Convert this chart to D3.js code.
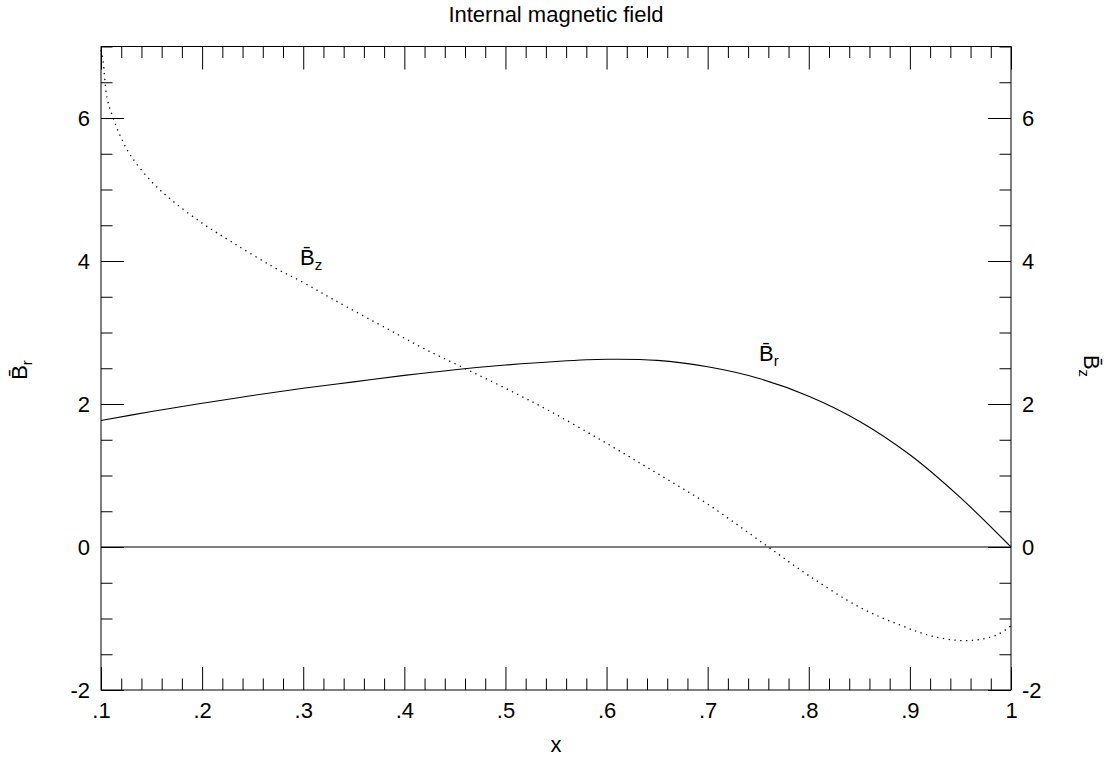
<!DOCTYPE html>
<html>
<head>
<meta charset="utf-8">
<script src="https://cdn.jsdelivr.net/npm/d3@7"></script>
<style>
  html, body { margin: 0; padding: 0; background: #fff; }
  svg { display: block; font-family: "Liberation Sans", Arial, sans-serif; }
  .axis text { font-size: 22px; fill: #000; }
  .axis line { stroke: #000; stroke-width: 1; }
  .axis path { display: none; }
</style>
</head>
<body>
<svg id="chart" width="1113" height="761"></svg>
<script>
// Radial field component along x
const brX = [0.10, 0.15, 0.20, 0.25, 0.30, 0.35, 0.40, 0.45, 0.50, 0.55, 0.60, 0.65, 0.70, 0.75, 0.80, 0.85, 0.90, 0.95, 1.00];
const brY = [1.77, 1.895, 2.01, 2.12, 2.22, 2.31, 2.40, 2.48, 2.545, 2.595, 2.625, 2.61, 2.52, 2.36, 2.11, 1.76, 1.29, 0.69, 0.00];

// Axial field component along x
const bzX = [0.100, 0.102, 0.106, 0.112, 0.120, 0.130, 0.150, 0.170, 0.200, 0.230, 0.270, 0.300, 0.330, 0.386, 0.420, 0.458, 0.500, 0.544, 0.600, 0.650, 0.700, 0.760, 0.800, 0.850, 0.890, 0.923, 0.958, 0.986, 1.000];
const bzY = [6.95, 6.80, 6.28, 6.00, 5.72, 5.46, 5.11, 4.85, 4.53, 4.26, 3.92, 3.70, 3.46, 3.03, 2.77, 2.51, 2.22, 1.90, 1.45, 1.03, 0.60, 0.00, -0.40, -0.84, -1.09, -1.25, -1.31, -1.23, -1.10];

// Tick values and labels
const xMajorTicks = [0.1, 0.2, 0.3, 0.4, 0.5, 0.6, 0.7, 0.8, 0.9, 1.0];
const xTickLabels = [".1", ".2", ".3", ".4", ".5", ".6", ".7", ".8", ".9", "1"];
const yMajorTicks = [-2, 0, 2, 4, 6];
const yTickLabels = ["-2", "0", "2", "4", "6"];
const xMinorTicks = d3.range(5, 51).filter(i => i % 5 !== 0).map(i => i / 50);
const yMinorTicks = d3.range(-4, 15).filter(i => i % 4 !== 0).map(i => i / 2);

const svg = d3.select("#chart");
const plotLeft = 101, plotRight = 1011, plotTop = 46.5, plotBottom = 690;

const x = d3.scaleLinear().domain([0.1, 1]).range([plotLeft, plotRight]);
const y = d3.scaleLinear().domain([-2, 7]).range([plotBottom, plotTop]);

const MAJ = 23, MIN = 11.5;

// Bottom axis
svg.append("g").attr("class", "axis").attr("transform", `translate(0,${plotBottom})`)
  .call(d3.axisBottom(x).tickValues(xMajorTicks).tickSize(-MAJ).tickPadding(12)
    .tickFormat((d, i) => xTickLabels[i]));
svg.append("g").attr("class", "axis").attr("transform", `translate(0,${plotBottom})`)
  .call(d3.axisBottom(x).tickValues(xMinorTicks).tickSize(-MIN).tickFormat(""));

// Top axis
svg.append("g").attr("class", "axis").attr("transform", `translate(0,${plotTop})`)
  .call(d3.axisTop(x).tickValues(xMajorTicks).tickSize(-MAJ).tickFormat(""));
svg.append("g").attr("class", "axis").attr("transform", `translate(0,${plotTop})`)
  .call(d3.axisTop(x).tickValues(xMinorTicks).tickSize(-MIN).tickFormat(""));

// Left axis
svg.append("g").attr("class", "axis").attr("transform", `translate(${plotLeft},0)`)
  .call(d3.axisLeft(y).tickValues(yMajorTicks).tickSize(-MAJ).tickPadding(11)
    .tickFormat((d, i) => yTickLabels[i]));
svg.append("g").attr("class", "axis").attr("transform", `translate(${plotLeft},0)`)
  .call(d3.axisLeft(y).tickValues(yMinorTicks).tickSize(-MIN).tickFormat(""));

// Right axis
svg.append("g").attr("class", "axis").attr("transform", `translate(${plotRight},0)`)
  .call(d3.axisRight(y).tickValues(yMajorTicks).tickSize(-MAJ).tickPadding(11)
    .tickFormat((d, i) => yTickLabels[i]));
svg.append("g").attr("class", "axis").attr("transform", `translate(${plotRight},0)`)
  .call(d3.axisRight(y).tickValues(yMinorTicks).tickSize(-MIN).tickFormat(""));

// Frame
svg.append("rect")
  .attr("x", plotLeft).attr("y", plotTop)
  .attr("width", plotRight - plotLeft).attr("height", plotBottom - plotTop)
  .attr("fill", "none").attr("stroke", "#000").attr("stroke-width", 1);

// Zero line
svg.append("line")
  .attr("x1", x(0.1)).attr("x2", x(1))
  .attr("y1", y(0)).attr("y2", y(0))
  .attr("stroke", "#000").attr("stroke-width", 1);

const line = d3.line().x(d => x(d[0])).y(d => y(d[1])).curve(d3.curveCatmullRom.alpha(0.5));

svg.append("path")
  .datum(d3.zip(brX, brY))
  .attr("d", line)
  .attr("fill", "none").attr("stroke", "#000").attr("stroke-width", 1.1);

svg.append("path")
  .datum(d3.zip(bzX, bzY))
  .attr("d", line)
  .attr("fill", "none").attr("stroke", "#000").attr("stroke-width", 1.3)
  .attr("stroke-dasharray", "1.3,4.5");

// Field symbol: B with macron and a subscript
function fieldLabel(sel, sub) {
  sel.append("tspan").text("B\u0304");
  sel.append("tspan").attr("font-size", 15).attr("dy", 5).text(sub);
}

svg.append("text").attr("x", x(0.2968)).attr("y", y(3.94))
  .attr("font-size", 22).call(fieldLabel, "z");
svg.append("text").attr("x", x(0.7508)).attr("y", y(2.60))
  .attr("font-size", 22).call(fieldLabel, "r");

// Title
svg.append("text").attr("x", 556).attr("y", 22).attr("text-anchor", "middle")
  .attr("font-size", 22).text("Internal magnetic field");

// Axis titles
svg.append("text").attr("x", 556).attr("y", 752).attr("text-anchor", "middle")
  .attr("font-size", 22).text("x");
svg.append("text").attr("text-anchor", "middle").attr("font-size", 22)
  .attr("transform", "translate(27,370) rotate(-90)").call(fieldLabel, "r");
svg.append("text").attr("text-anchor", "middle").attr("font-size", 22)
  .attr("transform", "translate(1084,366) rotate(90)").call(fieldLabel, "z");
</script>
</body>
</html>
